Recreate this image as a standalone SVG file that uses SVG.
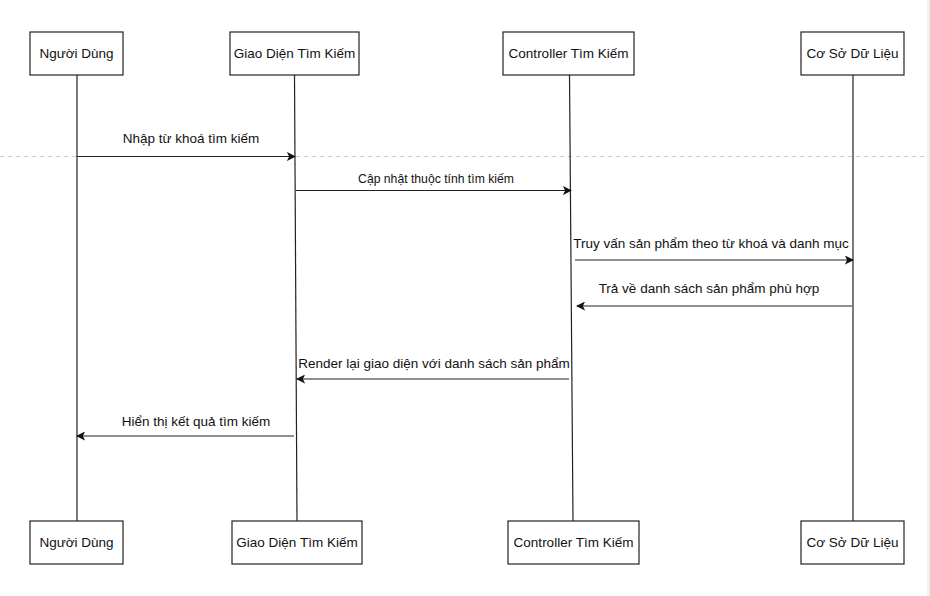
<svg xmlns="http://www.w3.org/2000/svg" width="930" height="596" viewBox="0 0 930 596">
<style>
.box{fill:#fff;stroke:#222;stroke-width:1.2}
.life{stroke:#222;stroke-width:1.2;fill:none}
.msg{stroke:#222;stroke-width:1.2;fill:none;marker-end:url(#arr)}
.t{font-family:"Liberation Sans",Arial,sans-serif;font-size:13.5px;fill:#111;text-anchor:middle}
.s{font-size:12.2px}
</style>
<defs>
<marker id="arr" viewBox="0 0 10 10" refX="9" refY="5" markerWidth="9" markerHeight="9" markerUnits="userSpaceOnUse" orient="auto">
<path d="M0,0 L10,5 L0,10 L2.5,5 Z" fill="#111"/>
</marker>
</defs>
<rect width="930" height="596" fill="#fff"/>
<rect x="927" y="0" width="3" height="596" fill="#f0f0f0"/>
<line x1="0" y1="156.5" x2="927" y2="156.5" stroke="#ccc" stroke-width="1" stroke-dasharray="4,4"/>
<g id="lifelines">
<line class="life" x1="77" y1="75" x2="77" y2="521"/>
<line class="life" x1="294.5" y1="75" x2="297" y2="521"/>
<line class="life" x1="569.5" y1="75" x2="573" y2="521"/>
<line class="life" x1="853" y1="75" x2="853" y2="521"/>
</g>
<g id="top-nguoidung"><rect class="box" x="30" y="32" width="93" height="43"/><text class="t" x="76.5" y="58">Người Dùng</text></g>
<g id="top-giaodien"><rect class="box" x="230" y="32" width="129" height="43"/><text class="t" x="294.5" y="58">Giao Diện Tìm Kiếm</text></g>
<g id="top-controller"><rect class="box" x="503" y="32" width="131" height="43"/><text class="t" x="568.5" y="58">Controller Tìm Kiếm</text></g>
<g id="top-csdl"><rect class="box" x="801" y="32" width="103" height="43"/><text class="t" x="852.5" y="58">Cơ Sở Dữ Liệu</text></g>
<g id="bot-nguoidung"><rect class="box" x="30" y="521" width="93" height="43"/><text class="t" x="76.5" y="547">Người Dùng</text></g>
<g id="bot-giaodien"><rect class="box" x="232" y="521" width="130" height="43"/><text class="t" x="297" y="547">Giao Diện Tìm Kiếm</text></g>
<g id="bot-controller"><rect class="box" x="508" y="521" width="131" height="43"/><text class="t" x="573.5" y="547">Controller Tìm Kiếm</text></g>
<g id="bot-csdl"><rect class="box" x="801" y="521" width="103" height="43"/><text class="t" x="852.5" y="547">Cơ Sở Dữ Liệu</text></g>
<g id="connectors">
<line class="msg" x1="77" y1="156.5" x2="295" y2="156.5"/>
<line class="msg" x1="296" y1="190.5" x2="571" y2="190.5"/>
<line class="msg" x1="575" y1="260" x2="853" y2="260"/>
<line class="msg" x1="852" y1="306" x2="577" y2="306"/>
<line class="msg" x1="569" y1="379" x2="297" y2="379"/>
<line class="msg" x1="294" y1="436" x2="77" y2="436"/>
</g>
<g id="labels">
<text class="t" x="191" y="143">Nhập từ khoá tìm kiếm</text>
<text class="t s" x="436" y="183">Cập nhật thuộc tính tìm kiếm</text>
<text class="t" x="711" y="248">Truy vấn sản phẩm theo từ khoá và danh mục</text>
<text class="t" x="709" y="293">Trả về danh sách sản phẩm phù hợp</text>
<text class="t" x="434" y="368">Render lại giao diện với danh sách sản phẩm</text>
<text class="t" x="196" y="426">Hiển thị kết quả tìm kiếm</text>
</g>
</svg>
